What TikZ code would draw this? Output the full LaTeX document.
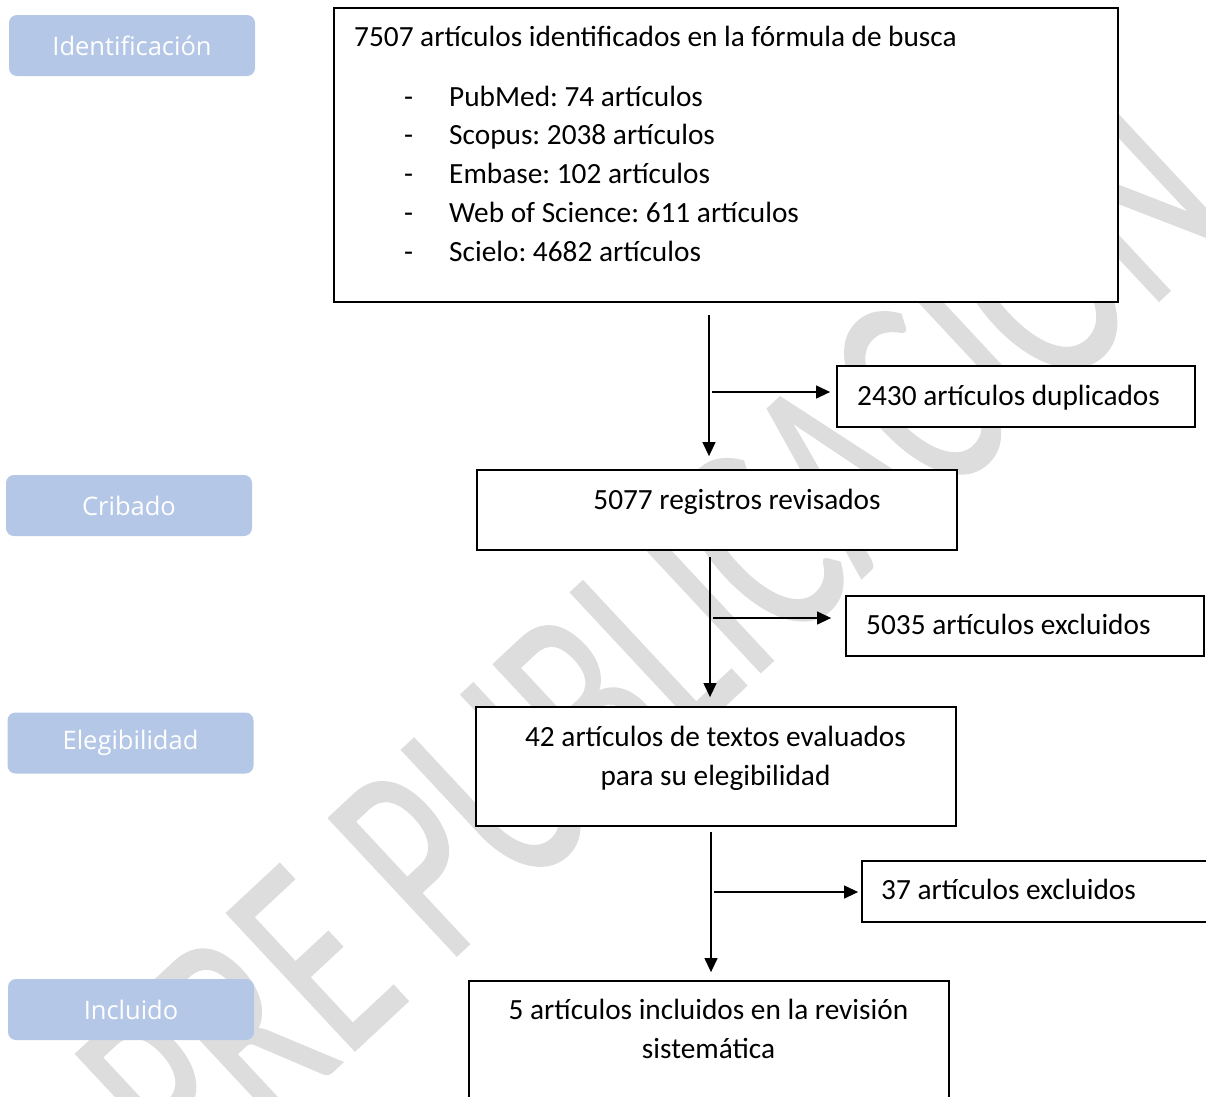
\documentclass[tikz,border=0pt]{standalone}
\usepackage{graphicx}
\usepackage{fontspec}
\setmainfont{Carlito}
\newfontfamily\fasefont{Open Sans}
\newfontfamily\marcafont[FakeBold=0.6]{Carlito}
\usetikzlibrary{arrows.meta}
\definecolor{azulfase}{RGB}{180,199,231}
\definecolor{grismarca}{RGB}{221,221,221}
\frenchspacing
\begin{document}
\begin{tikzpicture}[x=1pt,y=-1pt,
texto/.style={inner sep=0pt,font=\fontsize{29.3}{39}\selectfont},
caja/.style={draw=black,fill=white,line width=1.8pt,inner sep=0pt},
fase/.style={fill=azulfase,rounded corners=8pt,minimum width=246pt,minimum height=61pt,text=white,font=\fasefont\fontsize{25.5}{30}\selectfont},
flecha/.style={-{Triangle[length=14pt,width=13pt]},line width=1.2pt}]
\useasboundingbox (0,0) rectangle (1206,1096);
\clip (0,0) rectangle (1206,1096);
% marca de agua
\node[anchor=base,rotate=43,inner sep=0pt,text=grismarca,font=\marcafont\fontsize{293}{293}\selectfont] (marca) at (717,713) {\scalebox{0.665}[1]{PRE PUBLICACIÓN}};
% fases
\node[fase] (identificacion) at (132,45.5) {Identificación};
\node[fase] (cribado) at (129,505.5) {Cribado};
\node[fase] (elegibilidad) at (130.5,743) {Elegibilidad};
\node[fase] (incluido) at (131,1009.5) {Incluido};
% cajas
\node[caja,minimum width=784pt,minimum height=294pt] (busca) at (726,155) {};
\node[caja,minimum width=358pt,minimum height=61pt] (duplicados) at (1016,396.5) {};
\node[caja,minimum width=480pt,minimum height=80pt] (revisados) at (717,510) {};
\node[caja,minimum width=358pt,minimum height=60pt] (excluidos) at (1025,626) {};
\node[caja,minimum width=480pt,minimum height=119pt] (evaluados) at (716,766.5) {};
\node[caja,minimum width=358pt,minimum height=61pt] (excluidostexto) at (1041,891.5) {};
\node[caja,minimum width=480pt,minimum height=119pt] (incluidos) at (709,1040.5) {};
% textos
\node[texto,anchor=base west] (titulo) at (354,46) {7507 artículos identificados en la fórmula de busca};
\foreach \y/\fuente [count=\i] in {106/{PubMed: 74 artículos},144/{Scopus: 2038 artículos},183/{Embase: 102 artículos},222/{Web of Science: 611 artículos},261/{Scielo: 4682 artículos}}{
  \node[texto,anchor=base west] (guion\i) at (404,\y) {-};
  \node[texto,anchor=base west] (fuente\i) at (449,\y) {\fuente};
}
\node[texto,anchor=base west] (tdup) at (857,405) {2430 artículos duplicados};
\node[texto,anchor=base] (trev) at (737,509) {5077 registros revisados};
\node[texto,anchor=base west] (texc) at (866,634) {5035 artículos excluidos};
\node[texto,align=center] (teva) at (715.5,758) {42 artículos de textos evaluados\\para su elegibilidad};
\node[texto,anchor=base west] (texc2) at (881,899) {37 artículos excluidos};
\node[texto,align=center] (tinc) at (708.5,1029) {5 artículos incluidos en la revisión\\sistemática};
% flechas
\coordinate (v1) at (709,315);
\coordinate (v2) at (710,557);
\coordinate (v3) at (711,832);
\coordinate (h1) at (712,392);
\coordinate (h2) at (713,618);
\coordinate (h3) at (714,892);
\draw[flecha,shorten >=13pt] (v1) -- (v1 |- revisados.north);
\draw[flecha,shorten >=9pt] (v2) -- (v2 |- evaluados.north);
\draw[flecha,shorten >=8pt] (v3) -- (v3 |- incluidos.north);
\draw[flecha,shorten >=6pt] (h1) -- (h1 -| duplicados.west);
\draw[flecha,shorten >=14pt] (h2) -- (h2 -| excluidos.west);
\draw[flecha,shorten >=3pt] (h3) -- (h3 -| excluidostexto.west);
\end{tikzpicture}
\end{document}
